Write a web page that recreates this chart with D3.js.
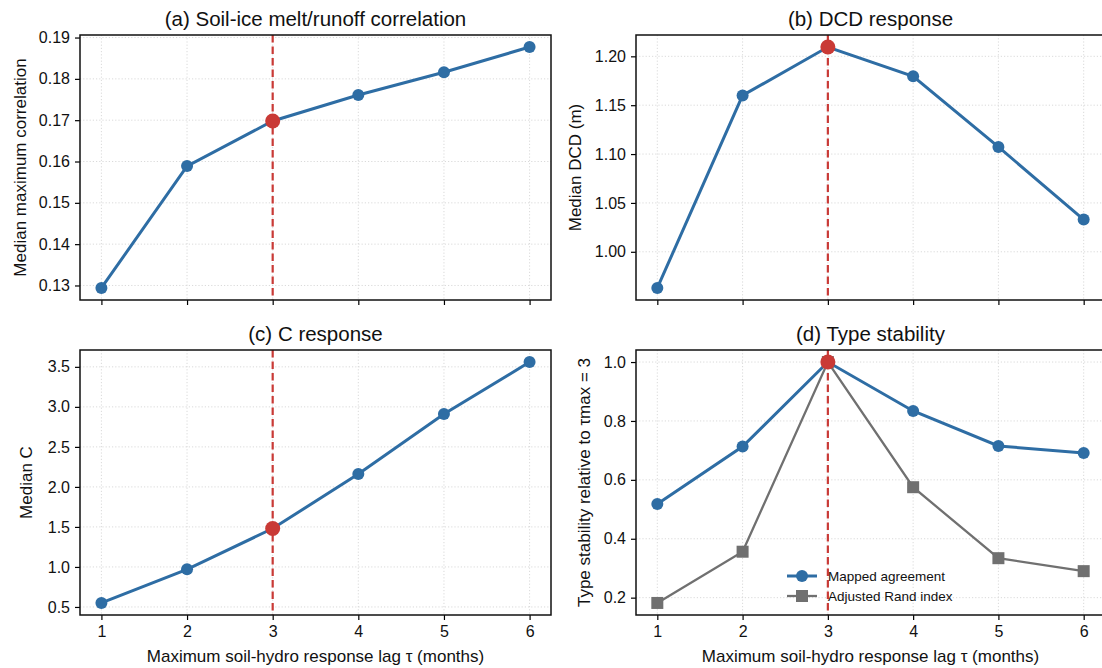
<!DOCTYPE html>
<html>
<head>
<meta charset="utf-8">
<script src="https://cdn.jsdelivr.net/npm/d3@7"></script>
<style>
  body { margin: 0; background: #fff; }
  svg { font-family: "Liberation Sans", Arial, sans-serif; }
</style>
</head>
<body>
<svg id="fig" width="1102" height="668"></svg>
<script>
"use strict";

const lags = [1, 2, 3, 4, 5, 6];
const chosenLag = 3;

const corrValues = [0.1294, 0.1589, 0.1698, 0.1761, 0.1816, 0.1877];
const dcdValues = [0.963, 1.160, 1.2095, 1.1795, 1.1073, 1.033];
const cValues = [0.55, 0.97, 1.48, 2.16, 2.91, 3.56];
const mappedAgreement = [0.518, 0.713, 1.0, 0.834, 0.715, 0.691];
const adjustedRand = [0.182, 0.356, 1.0, 0.575, 0.334, 0.290];

const corrTicks = [0.13, 0.14, 0.15, 0.16, 0.17, 0.18, 0.19];
const dcdTicks = [1.00, 1.05, 1.10, 1.15, 1.20];
const cTicks = [0.5, 1.0, 1.5, 2.0, 2.5, 3.0, 3.5];
const stabTicks = [0.2, 0.4, 0.6, 0.8, 1.0];

const blue = "#2e6da4";
const red = "#c93a36";
const grey = "#707070";

const svg = d3.select("#fig");

function drawPanel(cfg) {
  const g = svg.append("g");
  const x = d3.scaleLinear().domain([0.75, 6.25]).range([cfg.left, cfg.right]);
  const all = cfg.series.flatMap(s => s.values);
  const lo = d3.min(all), hi = d3.max(all), pad = (hi - lo) * 0.05;
  const y = d3.scaleLinear().domain([lo - pad, hi + pad]).range([cfg.bottom, cfg.top]);

  // grid
  g.append("g").selectAll("line").data(lags).join("line")
    .attr("x1", d => x(d)).attr("x2", d => x(d))
    .attr("y1", cfg.top).attr("y2", cfg.bottom)
    .attr("stroke", "#d0d0d0").attr("stroke-width", 0.8).attr("stroke-dasharray", "1.2,2");
  g.append("g").selectAll("line").data(cfg.ticks).join("line")
    .attr("x1", cfg.left).attr("x2", cfg.right)
    .attr("y1", d => y(d)).attr("y2", d => y(d))
    .attr("stroke", "#d0d0d0").attr("stroke-width", 0.8).attr("stroke-dasharray", "1.2,2");

  // axes
  const xAxis = d3.axisBottom(x).tickValues(lags).tickSize(5).tickPadding(6)
    .tickFormat(cfg.xLabels ? d3.format("d") : "");
  g.append("g").attr("transform", `translate(0,${cfg.bottom})`).call(xAxis)
    .call(a => a.select(".domain").remove())
    .call(a => a.selectAll("line").attr("stroke-width", 1.2))
    .call(a => a.selectAll("text").attr("font-size", 16).attr("fill", "#111"));
  const yAxis = d3.axisLeft(y).tickValues(cfg.ticks).tickSize(5).tickPadding(5)
    .tickFormat(d3.format(cfg.fmt));
  g.append("g").attr("transform", `translate(${cfg.left},0)`).call(yAxis)
    .call(a => a.select(".domain").remove())
    .call(a => a.selectAll("line").attr("stroke-width", 1.2))
    .call(a => a.selectAll("text").attr("font-size", 16).attr("fill", "#111"));

  // chosen lag
  g.append("line")
    .attr("x1", x(chosenLag)).attr("x2", x(chosenLag))
    .attr("y1", cfg.top).attr("y2", cfg.bottom)
    .attr("stroke", red).attr("stroke-width", 2.2).attr("stroke-dasharray", "7.5,4");

  cfg.series.forEach(s => {
    const line = d3.line().x((d, i) => x(lags[i])).y(d => y(d));
    g.append("path").datum(s.values)
      .attr("d", line).attr("fill", "none")
      .attr("stroke", s.color).attr("stroke-width", s.width);
    if (s.shape === "square") {
      g.append("g").selectAll("rect").data(s.values).join("rect")
        .attr("x", (d, i) => x(lags[i]) - 6).attr("y", d => y(d) - 6)
        .attr("width", 12).attr("height", 12).attr("fill", s.color);
    } else {
      g.append("g").selectAll("circle").data(s.values).join("circle")
        .attr("cx", (d, i) => x(lags[i])).attr("cy", d => y(d))
        .attr("r", 6).attr("fill", s.color);
    }
  });

  // highlighted point on the main series
  const main = cfg.series[0].values;
  g.append("circle")
    .attr("cx", x(chosenLag)).attr("cy", y(main[lags.indexOf(chosenLag)]))
    .attr("r", 7.5).attr("fill", red);

  // frame
  g.append("rect")
    .attr("x", cfg.left).attr("y", cfg.top)
    .attr("width", cfg.right - cfg.left).attr("height", cfg.bottom - cfg.top)
    .attr("fill", "none").attr("stroke", "#111").attr("stroke-width", 1.5);

  g.append("text")
    .attr("x", (cfg.left + cfg.right) / 2).attr("y", cfg.top - 9)
    .attr("text-anchor", "middle").attr("font-size", 20.5).attr("fill", "#111")
    .text(cfg.title);

  g.append("text")
    .attr("transform", `translate(${cfg.yLabelX},${(cfg.top + cfg.bottom) / 2}) rotate(-90)`)
    .attr("text-anchor", "middle").attr("font-size", 17).attr("fill", "#111")
    .text(cfg.yLabel);

  if (cfg.xLabels) {
    g.append("text")
      .attr("x", (cfg.left + cfg.right) / 2).attr("y", cfg.bottom + 47)
      .attr("text-anchor", "middle").attr("font-size", 17).attr("fill", "#111")
      .text("Maximum soil-hydro response lag τ (months)");
  }

  if (cfg.legend) {
    const lg = g.append("g");
    cfg.series.forEach((s, i) => {
      const ly = cfg.legend.y + i * 20;
      const lx = cfg.legend.x;
      lg.append("line").attr("x1", lx).attr("x2", lx + 30)
        .attr("y1", ly).attr("y2", ly)
        .attr("stroke", s.color).attr("stroke-width", s.width);
      if (s.shape === "square") {
        lg.append("rect").attr("x", lx + 15 - 6).attr("y", ly - 6)
          .attr("width", 12).attr("height", 12).attr("fill", s.color);
      } else {
        lg.append("circle").attr("cx", lx + 15).attr("cy", ly).attr("r", 6).attr("fill", s.color);
      }
      lg.append("text").attr("x", lx + 41).attr("y", ly + 5)
        .attr("font-size", 13.5).attr("fill", "#111").text(s.name);
    });
  }
}

drawPanel({
  left: 80, right: 551, top: 35, bottom: 300,
  title: "(a) Soil-ice melt/runoff correlation",
  yLabel: "Median maximum correlation", yLabelX: 26,
  ticks: corrTicks, fmt: ".2f", xLabels: false,
  series: [{ values: corrValues, color: blue, width: 3 }]
});

drawPanel({
  left: 636, right: 1105, top: 35, bottom: 300,
  title: "(b) DCD response",
  yLabel: "Median DCD (m)", yLabelX: 581,
  ticks: dcdTicks, fmt: ".2f", xLabels: false,
  series: [{ values: dcdValues, color: blue, width: 3 }]
});

drawPanel({
  left: 80, right: 551, top: 350, bottom: 615,
  title: "(c) C response",
  yLabel: "Median C", yLabelX: 32,
  ticks: cTicks, fmt: ".1f", xLabels: true,
  series: [{ values: cValues, color: blue, width: 3 }]
});

drawPanel({
  left: 636, right: 1105, top: 350, bottom: 615,
  title: "(d) Type stability",
  yLabel: "Type stability relative to τmax = 3", yLabelX: 590,
  ticks: stabTicks, fmt: ".1f", xLabels: true,
  legend: { x: 787, y: 576 },
  series: [
    { name: "Mapped agreement", values: mappedAgreement, color: blue, width: 3 },
    { name: "Adjusted Rand index", values: adjustedRand, color: grey, width: 2.3, shape: "square" }
  ]
});
</script>
</body>
</html>
